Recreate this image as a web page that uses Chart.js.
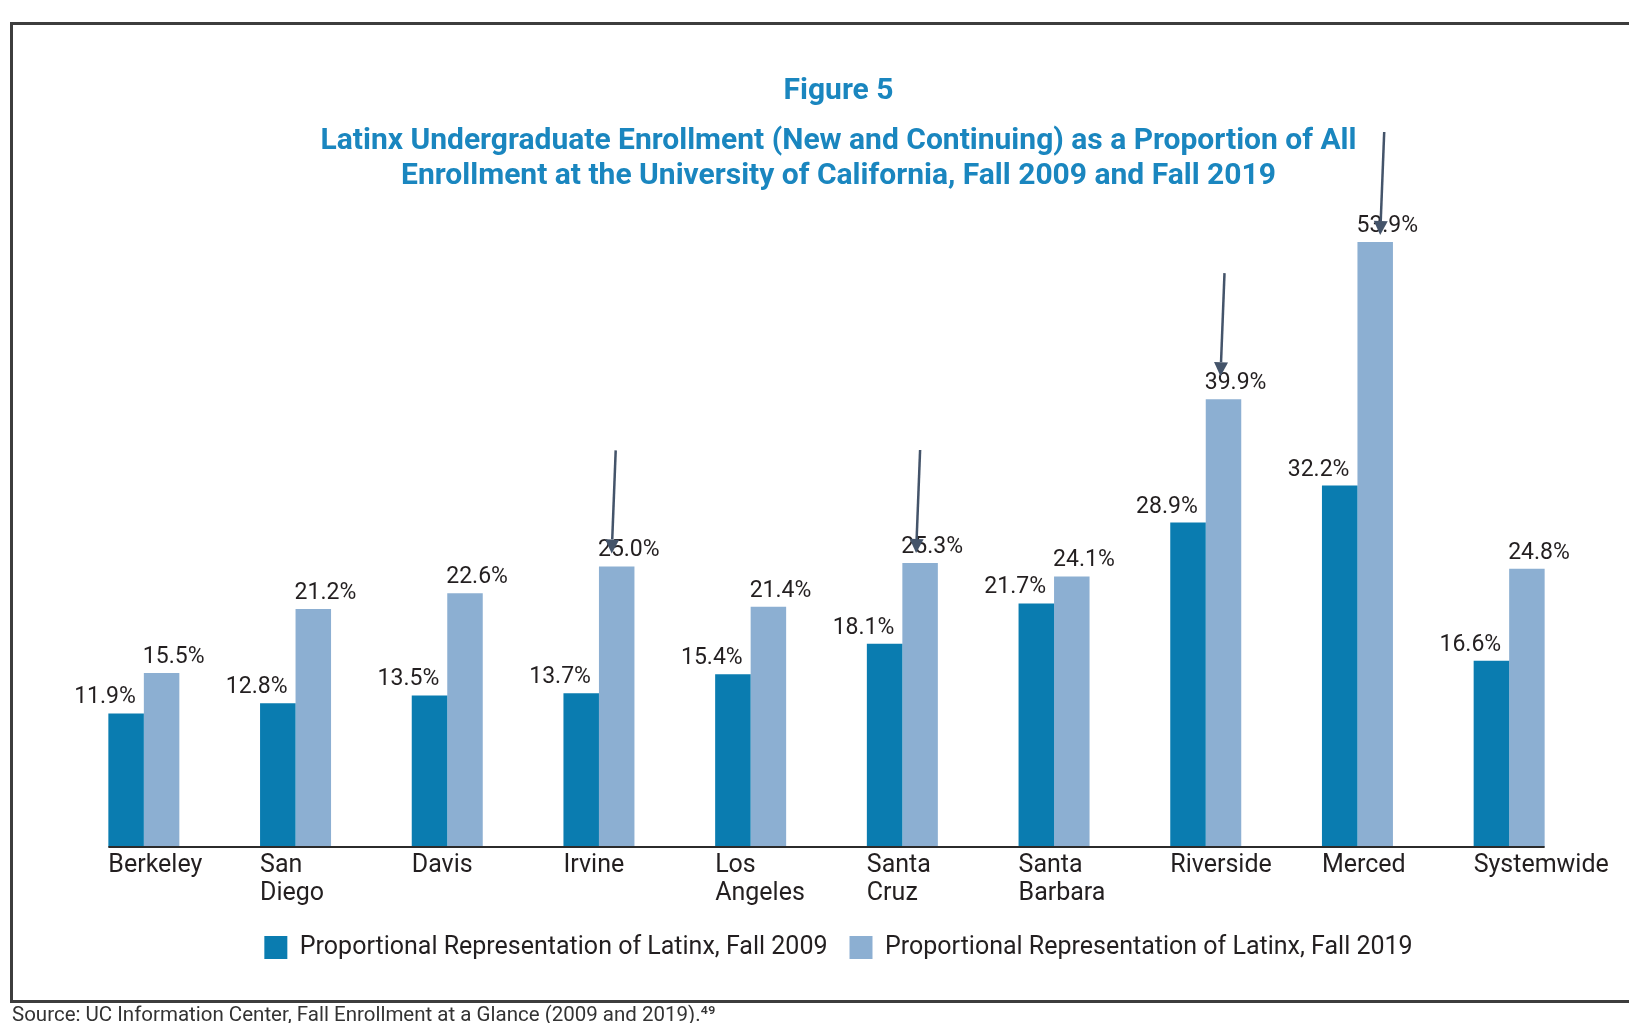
<!DOCTYPE html>
<html lang="en">
<head>
<meta charset="UTF-8">
<title>Figure 5 - Latinx Undergraduate Enrollment</title>
<script src="https://cdn.jsdelivr.net/npm/chart.js"></script>
<style>
  html, body { margin: 0; padding: 0; background: #fff; overflow: hidden; }
  .wrap { position: relative; width: 1629px; height: 1023px; }
  .frame {
    position: absolute; left: 10px; top: 22px; width: 1700px; height: 981px;
    border: 3px solid #3d3d3d; box-sizing: border-box;
  }
  .chart-box { position: absolute; left: 0; top: 0; width: 1629px; height: 1023px; }
  .source {
    position: absolute; left: 12px; top: 1002px;
    font: 20.5px Roboto, sans-serif; color: #333; white-space: nowrap;
  }
</style>
</head>
<body>
<div class="wrap">
  <div class="frame"></div>
  <div class="chart-box"><canvas id="enrollChart"></canvas></div>
  <div class="source">Source: UC Information Center, Fall Enrollment at a Glance (2009 and 2019).⁴⁹</div>
</div>

<script>
  const campuses = ['Berkeley', 'San Diego', 'Davis', 'Irvine', 'Los Angeles', 'Santa Cruz',
                    'Santa Barbara', 'Riverside', 'Merced', 'Systemwide'];
  const fall2009 = [11.9, 12.8, 13.5, 13.7, 15.4, 18.1, 21.7, 28.9, 32.2, 16.6];
  const fall2019 = [15.5, 21.2, 22.6, 25.0, 21.4, 25.3, 24.1, 39.9, 53.9, 24.8];
  const seriesNames = ['Proportional Representation of Latinx, Fall 2009',
                       'Proportional Representation of Latinx, Fall 2019'];

  // hand-drawn arrows in the original, pointing at some 2019 bars
  const arrowNotes = [
    { campus: 'Irvine', dx: -5, dy: -13 },
    { campus: 'Santa Cruz', dx: -4, dy: -10 },
    { campus: 'Riverside', dx: -3, dy: -23 },
    { campus: 'Merced', dx: 5, dy: -7 }
  ];

  const darkBlue = '#0a7cb0';
  const lightBlue = '#8cafd2';
  const titleBlue = '#1a86bf';
  const textColor = '#231f20';

  const barExtras = {
    id: 'barExtras',
    afterDatasetsDraw(chart) {
      const ctx = chart.ctx;
      const m0 = chart.getDatasetMeta(0).data;
      const m1 = chart.getDatasetMeta(1).data;
      const y0 = chart.scales.y.getPixelForValue(0);

      // baseline under the bars
      ctx.save();
      ctx.strokeStyle = '#2b2b2b';
      ctx.lineWidth = 2;
      ctx.beginPath();
      ctx.moveTo(m0[0].x - m0[0].width / 2, y0);
      const last = m1[m1.length - 1];
      ctx.lineTo(last.x + last.width / 2, y0);
      ctx.stroke();

      // value labels
      ctx.font = '23px Roboto, sans-serif';
      ctx.fillStyle = textColor;
      ctx.textBaseline = 'alphabetic';
      m0.forEach((bar, i) => {
        ctx.textAlign = 'right';
        ctx.fillText(fall2009[i].toFixed(1) + '%', bar.x + bar.width / 2 - 8, bar.y - 10);
      });
      m1.forEach((bar, i) => {
        ctx.textAlign = 'left';
        ctx.fillText(fall2019[i].toFixed(1) + '%', bar.x - bar.width / 2 - 1, bar.y - 10);
      });

      // arrows
      ctx.strokeStyle = '#44546a';
      ctx.fillStyle = '#44546a';
      ctx.lineWidth = 2.5;
      arrowNotes.forEach(a => {
        const bar = m1[campuses.indexOf(a.campus)];
        const tx = bar.x + a.dx, ty = bar.y + a.dy;
        const sx = tx + 4, sy = ty - 103;
        const ang = Math.atan2(ty - sy, tx - sx);
        const hl = 14, hw = 7;
        const bx = tx - hl * Math.cos(ang), by = ty - hl * Math.sin(ang);
        ctx.beginPath();
        ctx.moveTo(sx, sy);
        ctx.lineTo(bx, by);
        ctx.stroke();
        ctx.beginPath();
        ctx.moveTo(tx, ty);
        ctx.lineTo(bx + hw * Math.sin(ang), by - hw * Math.cos(ang));
        ctx.lineTo(bx - hw * Math.sin(ang), by + hw * Math.cos(ang));
        ctx.closePath();
        ctx.fill();
      });
      ctx.restore();
    }
  };

  const ctx = document.getElementById('enrollChart').getContext('2d');
  new Chart(ctx, {
    type: 'bar',
    data: {
      labels: campuses.map(c => c.split(' ')),
      datasets: [
        { label: seriesNames[0], data: fall2009, backgroundColor: darkBlue, borderWidth: 0,
          categoryPercentage: 0.468, barPercentage: 1.0 },
        { label: seriesNames[1], data: fall2019, backgroundColor: lightBlue, borderWidth: 0,
          categoryPercentage: 0.468, barPercentage: 1.0 }
      ]
    },
    options: {
      responsive: true,
      maintainAspectRatio: false,
      animation: false,
      layout: { padding: { left: 68, right: 20, top: 0, bottom: 53 } },
      plugins: {
        title: {
          display: true,
          text: 'Figure 5',
          color: titleBlue,
          font: { family: 'Roboto', size: 30, weight: 'bold', lineHeight: '35px' },
          padding: { top: 74, bottom: 0 }
        },
        subtitle: {
          display: true,
          text: ['Latinx Undergraduate Enrollment (New and Continuing) as a Proportion of All',
                 'Enrollment at the University of California, Fall 2009 and Fall 2019'],
          color: titleBlue,
          font: { family: 'Roboto', size: 30, weight: 'bold', lineHeight: '35px' },
          padding: { top: 14.7, bottom: 2.3 }
        },
        legend: {
          position: 'bottom',
          labels: {
            boxWidth: 23,
            boxHeight: 23,
            padding: 22,
            color: textColor,
            font: { family: 'Roboto', size: 25 }
          }
        },
        tooltip: { enabled: false }
      },
      scales: {
        x: {
          offset: true,
          grid: { display: false, drawTicks: false },
          border: { display: false },
          ticks: {
            autoSkip: false,
            maxRotation: 0,
            minRotation: 0,
            align: 'start',
            labelOffset: -35.5,
            padding: 5,
            color: textColor,
            font: { family: 'Roboto', size: 25, lineHeight: 1.12 }
          },
          afterFit(scale) {
            scale.paddingLeft = 0;
            scale.paddingRight = 0;
          }
        },
        y: {
          display: true,
          position: 'right',
          min: 0,
          max: 58,
          grid: { display: false, drawTicks: false },
          border: { display: false },
          ticks: { display: false },
          // empty strip on the right so the titles and legend sit where the original has them
          afterFit(scale) {
            scale.width = 24;
          }
        }
      }
    },
    plugins: [barExtras]
  });
</script>
</body>
</html>
